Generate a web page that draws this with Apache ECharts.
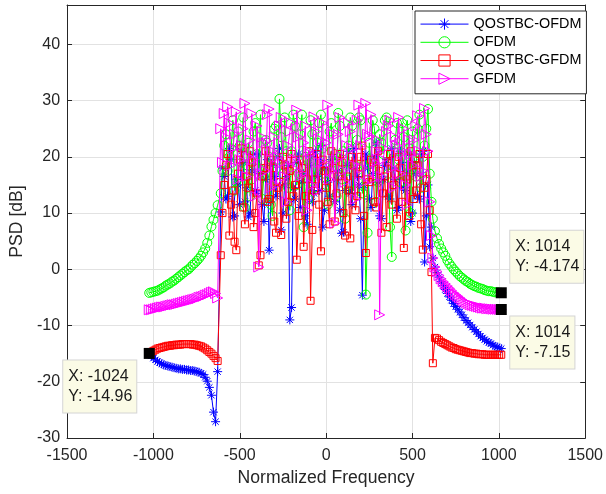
<!DOCTYPE html>
<html>
<head>
<meta charset="utf-8">
<script src="https://cdn.jsdelivr.net/npm/echarts@6/dist/echarts.min.js"></script>
<style>
html,body{margin:0;padding:0;background:#fff;}
#chart{width:606px;height:494px;}
</style>
</head>
<body>
<div id="chart"></div>
<script>
// ---------- data ----------
const xTicks = [-1500, -1000, -500, 0, 500, 1000, 1500];
const yTicks = [-30, -20, -10, 0, 10, 20, 30, 40];
const seriesNames = ['QOSTBC-OFDM', 'OFDM', 'QOSTBC-GFDM', 'GFDM'];

const freqLeft = [-1024,-1012,-1000,-988,-976,-964,-952,-940,-928,-916,-904,-892,-880,-868,-856,-844,-832,-820,-808,-796,-784,-772,-760,-748,-736,-724,-712,-700,-688,-676,-664,-652,-640,-628];
const freqMidA = [-610,-590,-570,-550,-530,-510,-490,-470,-450,-430,-410,-390,-370,-350,-330,-310,-290,-270,-250,-230,-210,-190,-170,-150,-130,-110,-90,-70,-50,-30,-10,10,30,50,70,90,110,130,150,170,190,210,230,250,270,290,310,330,350,370,390,410,430,450,470,490,510,530,550,570,590,610];
const freqMidB = [-600,-580,-560,-540,-520,-500,-480,-460,-440,-420,-400,-380,-360,-340,-320,-300,-280,-260,-240,-220,-200,-180,-160,-140,-120,-100,-80,-60,-40,-20,0,20,40,60,80,100,120,140,160,180,200,220,240,260,280,300,320,340,360,380,400,420,440,460,480,500,520,540,560,580,600];
const freqRight = [618,630,642,654,666,678,690,702,714,726,738,750,762,774,786,798,810,822,834,846,858,870,882,894,906,918,930,942,954,966,978,990,1002,1014];

// QOSTBC-OFDM (blue, *)
const qofdmLeft = [-15.0,-15.4,-15.8,-16.1,-16.4,-16.6,-16.8,-17.0,-17.1,-17.2,-17.3,-17.4,-17.5,-17.6,-17.7,-17.7,-17.8,-17.8,-17.9,-17.9,-18.0,-18.0,-18.1,-18.2,-18.3,-18.5,-18.7,-19.2,-19.9,-21.0,-22.4,-25.4,-27.1,-18.2];
const qofdmMidA = [10.2,16.5,13.0,19.5,9.5,15.0,21.0,12.0,9.3,17.5,14.0,20.5,11.5,16.0,3.4,18.5,13.0,21.5,10.0,16.5,-9.0,14.5,19.0,11.0,17.0,8.0,20.0,13.5,16.5,22.0,10.5,15.5,19.5,12.0,17.5,6.4,14.0,21.0,11.5,18.0,15.0,-4.6,20.5,12.5,17.0,22.5,9.5,16.0,19.5,12.5,18.0,10.5,21.0,14.5,17.5,8.5,19.0,13.0,20.5,1.3,15.0,7.5];
const qofdmMidB = [18.0,12.5,21.5,9.3,16.0,11.5,19.0,14.5,10.0,20.5,13.5,17.0,8.5,19.5,12.0,16.5,20.0,7.0,15.0,18.5,-6.8,12.5,20.5,15.5,9.5,18.5,12.0,21.0,14.0,7.5,18.0,13.0,20.0,16.0,10.5,6.6,18.5,13.5,21.5,16.5,9.0,14.5,18.0,11.0,20.0,15.5,9.0,18.5,13.0,21.5,16.0,11.0,19.0,14.0,20.5,10.0,17.0,12.5,21.0,9.5,4.0];
const qofdmRight = [2.0,0.4,-0.6,-1.4,-2.2,-2.9,-3.6,-4.3,-4.9,-5.5,-6.1,-6.6,-7.1,-7.6,-8.1,-8.6,-9.1,-9.5,-9.9,-10.3,-10.7,-11.1,-11.5,-11.9,-12.2,-12.5,-12.8,-13.0,-13.2,-13.5,-13.7,-13.8,-14.0,-14.1];

// OFDM (green, o)
const ofdmLeft = [-4.2,-4.1,-4.0,-3.9,-3.8,-3.6,-3.4,-3.2,-2.9,-2.7,-2.5,-2.2,-2.0,-1.7,-1.4,-1.1,-0.8,-0.5,-0.2,0.0,0.4,0.8,1.1,1.5,1.9,2.4,3.0,3.7,4.7,6.0,7.6,8.8,10.0,11.4];
const ofdmMidA = [13.5,22.0,17.5,21.5,14.0,24.5,19.0,11.0,22.5,16.0,26.0,18.0,12.5,23.0,20.0,9.5,25.5,30.3,17.0,21.0,10.5,27.5,15.0,24.0,7.5,19.5,26.5,14.5,22.5,27.5,17.0,11.5,26.0,20.5,27.8,16.0,9.0,22.0,25.5,18.5,27.0,13.5,-4.5,22.5,26.5,12.0,24.0,20.5,27.0,7.5,21.0,26.0,15.5,23.5,26.5,10.0,19.5,25.0,14.5,22.0,28.5,12.0];
const ofdmMidB = [17.5,24.0,20.0,26.5,15.5,22.0,27.0,18.5,13.0,24.5,20.5,27.5,16.5,22.5,11.5,25.0,19.5,23.5,27.0,14.5,21.0,25.5,17.0,27.5,20.0,12.5,24.0,18.0,26.0,21.5,15.0,24.5,19.0,13.0,25.5,21.0,17.5,27.0,14.0,23.0,26.5,18.5,6.5,19.0,25.0,15.5,22.5,26.5,17.0,2.2,23.0,19.5,26.0,6.9,21.5,24.5,16.5,27.5,20.0,25.0,17.0];
const ofdmRight = [9.0,6.8,5.5,4.5,3.7,3.0,2.4,1.6,1.0,0.5,0.0,-0.4,-0.8,-1.2,-1.5,-1.8,-2.1,-2.3,-2.6,-2.8,-3.0,-3.1,-3.3,-3.4,-3.5,-3.7,-3.8,-3.9,-3.9,-4.0,-4.1,-4.1,-4.15,-4.174];

// QOSTBC-GFDM (red, square)
const qgfdmLeft = [-14.96,-14.7,-14.5,-14.3,-14.1,-14.0,-13.9,-13.8,-13.7,-13.6,-13.6,-13.5,-13.5,-13.4,-13.4,-13.4,-13.3,-13.3,-13.3,-13.3,-13.3,-13.4,-13.4,-13.5,-13.6,-13.7,-13.9,-14.1,-14.4,-14.7,-15.0,-15.4,-15.8,-16.3];
const qgfdmMidA = [2.5,15.0,20.5,11.5,4.9,17.0,21.5,8.0,14.5,19.0,10.0,0.7,16.5,21.0,12.5,18.0,6.5,15.5,20.0,9.0,17.5,13.0,1.7,19.5,4.0,16.0,-5.6,14.0,20.5,3.2,17.5,12.0,21.0,8.5,16.5,19.0,6.0,14.0,20.0,10.5,17.0,22.0,2.9,15.5,19.0,11.0,17.5,13.5,7.5,20.5,15.0,9.0,18.0,3.8,16.0,21.0,12.5,18.5,8.0,14.5,20.5,-0.5];
const qgfdmMidB = [10.0,18.5,6.0,14.0,3.4,19.5,11.0,16.5,21.0,7.5,13.5,2.5,18.0,12.0,19.5,8.5,14.5,6.1,18.5,12.0,20.5,15.0,9.5,18.0,13.0,21.0,7.0,16.0,11.5,19.5,14.5,8.0,18.0,13.5,20.5,10.0,16.5,5.5,18.5,13.0,20.0,9.5,16.0,19.5,12.0,21.0,6.5,16.5,19.0,11.5,17.0,20.0,12.0,16.5,9.5,18.5,14.0,20.5,3.5,16.0,10.5];
const qgfdmRight = [-16.7,-12.2,-12.3,-12.6,-12.9,-13.1,-13.3,-13.5,-13.7,-13.9,-14.0,-14.2,-14.3,-14.4,-14.5,-14.6,-14.7,-14.8,-14.9,-14.9,-15.0,-15.0,-15.1,-15.1,-15.1,-15.2,-15.2,-15.2,-15.2,-15.2,-15.2,-15.2,-15.2,-15.2];

// GFDM (magenta, >)
const gfdmLeft = [-7.2,-7.2,-7.1,-7.0,-6.9,-6.8,-6.7,-6.7,-6.6,-6.5,-6.4,-6.3,-6.3,-6.2,-6.1,-6.0,-5.9,-5.8,-5.7,-5.6,-5.5,-5.4,-5.3,-5.2,-5.0,-4.9,-4.8,-4.6,-4.5,-4.3,-4.1,-4.0,-4.3,-5.1];
const gfdmMidA = [25.0,27.7,28.9,18.5,24.0,16.0,22.0,29.5,20.0,27.7,13.0,0.4,23.5,17.5,28.5,21.0,15.0,25.5,19.0,12.0,24.5,18.0,28.3,16.5,22.5,10.5,20.5,27.1,14.0,23.0,19.0,29.2,17.5,8.2,24.0,20.0,15.5,26.0,21.5,12.5,29.2,18.0,29.5,23.5,16.0,21.0,-8.1,19.5,24.5,26.5,14.5,22.0,17.0,25.0,11.5,20.5,23.0,27.3,16.5,28.6,21.0,6.0];
const gfdmMidB = [19.0,23.5,26.0,21.5,28.0,19.5,25.0,16.5,23.0,19.5,25.5,17.0,22.5,27.5,14.5,23.5,20.0,27.0,16.5,22.0,26.0,19.5,23.5,17.0,25.5,21.0,15.0,24.5,19.0,26.0,22.5,16.0,24.0,19.5,27.0,17.5,22.0,24.5,18.5,26.5,22.0,15.5,24.0,27.5,19.0,23.0,16.5,21.5,25.5,18.0,23.5,27.0,20.5,15.0,23.0,18.5,25.5,21.0,17.5,24.0,12.0];
const gfdmRight = [2.0,0.4,-0.4,-1.1,-1.7,-2.2,-2.6,-3.0,-3.4,-3.8,-4.2,-4.5,-4.8,-5.1,-5.4,-5.7,-5.9,-6.1,-6.3,-6.4,-6.5,-6.6,-6.7,-6.8,-6.9,-6.9,-7.0,-7.0,-7.05,-7.1,-7.1,-7.12,-7.14,-7.15];

// data tips
const tipPoints = [[-1024, -14.96], [1014, -4.174], [1014, -7.15]];

// ---------- build ----------
function zip(xs, ys) { return xs.map((x, i) => [x, ys[i]]); }
function join(l, a, b, r) {
  const mid = zip(freqMidA, a).concat(zip(freqMidB, b)).sort((p, q) => p[0] - q[0]);
  return zip(freqLeft, l).concat(mid, zip(freqRight, r));
}

const FONT = '"Liberation Sans", Arial, Helvetica, sans-serif';
const AX = '#262626';
const colors = ['#0000ff', '#00ff00', '#ff0000', '#ff00ff'];
const symbols = [
  'path://M5,0L5,10M0,5L10,5M1.5,1.5L8.5,8.5M1.5,8.5L8.5,1.5',
  'circle',
  'path://M0,0L10,0L10,10L0,10Z',
  'triangle'
];
const symbolSizes = [9, 9, 7, [10, 10]];
const symbolRot = [0, 0, 0, -90];
const dataSets = [
  join(qofdmLeft, qofdmMidA, qofdmMidB, qofdmRight),
  join(ofdmLeft, ofdmMidA, ofdmMidB, ofdmRight),
  join(qgfdmLeft, qgfdmMidA, qgfdmMidB, qgfdmRight),
  join(gfdmLeft, gfdmMidA, gfdmMidB, gfdmRight)
];

function tipLabel(pt, off) {
  return {
    coord: pt,
    symbol: 'rect',
    symbolSize: 11,
    itemStyle: { color: '#000', borderColor: '#000', borderWidth: 0 },
    label: {
      show: true,
      position: 'inside',
      offset: off,
      formatter: 'X: ' + pt[0] + '\nY: ' + pt[1],
      color: '#1a1a1a',
      fontFamily: FONT,
      fontSize: 16,
      lineHeight: 20,
      align: 'left',
      backgroundColor: '#fbfbe6',
      borderColor: '#d4d4d4',
      borderWidth: 1,
      padding: [6, 4, 6, 5]
    }
  };
}

const series = seriesNames.map((name, i) => {
  const s = {
    name: name,
    type: 'line',
    data: dataSets[i],
    symbol: symbols[i],
    symbolSize: symbolSizes[i],
    symbolRotate: symbolRot[i],
    showAllSymbol: true,
    lineStyle: { color: colors[i], width: 1 },
    itemStyle: { color: 'none', borderColor: colors[i], borderWidth: 1 },
    emphasis: { disabled: true },
    animation: false,
    z: 2 + i
  };
  if (i === 3) {
    s.markPoint = {
      animation: false,
      z: 20,
      data: [
        tipLabel(tipPoints[0], [-86, 33]),
        tipLabel(tipPoints[1], [9, -36]),
        tipLabel(tipPoints[2], [9, 33])
      ]
    };
  }
  return s;
});

const chart = echarts.init(document.getElementById('chart'), null, { renderer: 'canvas' });
chart.setOption({
  backgroundColor: '#fff',
  animation: false,
  textStyle: { fontFamily: FONT },
  grid: { left: 64, right: 17, top: 5, bottom: 56, containLabel: false },
  legend: {
    orient: 'vertical',
    left: 415,
    top: 11,
    padding: [5, 5, 7, 5],
    itemWidth: 48,
    itemHeight: 14,
    itemGap: 2,
    backgroundColor: '#fff',
    borderColor: AX,
    borderWidth: 1,
    borderRadius: 0,
    textStyle: { fontFamily: FONT, fontSize: 14.4, color: '#000' },
    data: seriesNames.map((n, i) => ({
      name: n,
      itemStyle: { color: 'none', borderColor: colors[i], borderWidth: 1 },
      lineStyle: { color: colors[i], width: 1 }
    }))
  },
  xAxis: [{
    type: 'value',
    min: -1500, max: 1500, interval: 500,
    name: 'Normalized Frequency',
    nameLocation: 'middle',
    nameGap: 31,
    nameTextStyle: { fontFamily: FONT, fontSize: 17.6, color: AX },
    axisLine: { show: true, onZero: false, lineStyle: { color: AX, width: 1 } },
    axisTick: { show: true, inside: true, length: 5, lineStyle: { color: AX } },
    axisLabel: { fontFamily: FONT, fontSize: 16, color: AX, margin: 10,
      formatter: v => String(v) },
    splitLine: { show: true, lineStyle: { color: '#e2e2e2', width: 1 } }
  }, {
    type: 'value', position: 'top',
    min: -1500, max: 1500, interval: 500,
    axisLine: { show: true, onZero: false, lineStyle: { color: AX, width: 1 } },
    axisTick: { show: true, inside: true, length: 5, lineStyle: { color: AX } },
    axisLabel: { show: false },
    splitLine: { show: false }
  }],
  yAxis: [{
    type: 'value',
    min: -30, max: 47, interval: 10,
    name: 'PSD [dB]',
    nameLocation: 'middle',
    nameGap: 35,
    nameTextStyle: { fontFamily: FONT, fontSize: 17.6, color: AX },
    axisLine: { show: true, onZero: false, lineStyle: { color: AX, width: 1 } },
    axisTick: { show: true, inside: true, length: 5, lineStyle: { color: AX }, customValues: yTicks },
    axisLabel: { fontFamily: FONT, fontSize: 16, color: AX, margin: 7, customValues: yTicks,
      formatter: v => String(v) },
    splitLine: { show: true, lineStyle: { color: '#e2e2e2', width: 1 } }
  }, {
    type: 'value', position: 'right',
    min: -30, max: 47, interval: 10,
    axisLine: { show: true, onZero: false, lineStyle: { color: AX, width: 1 } },
    axisTick: { show: true, inside: true, length: 5, lineStyle: { color: AX }, customValues: yTicks },
    axisLabel: { show: false },
    splitLine: { show: false }
  }],
  series: series
});
</script>
</body>
</html>
